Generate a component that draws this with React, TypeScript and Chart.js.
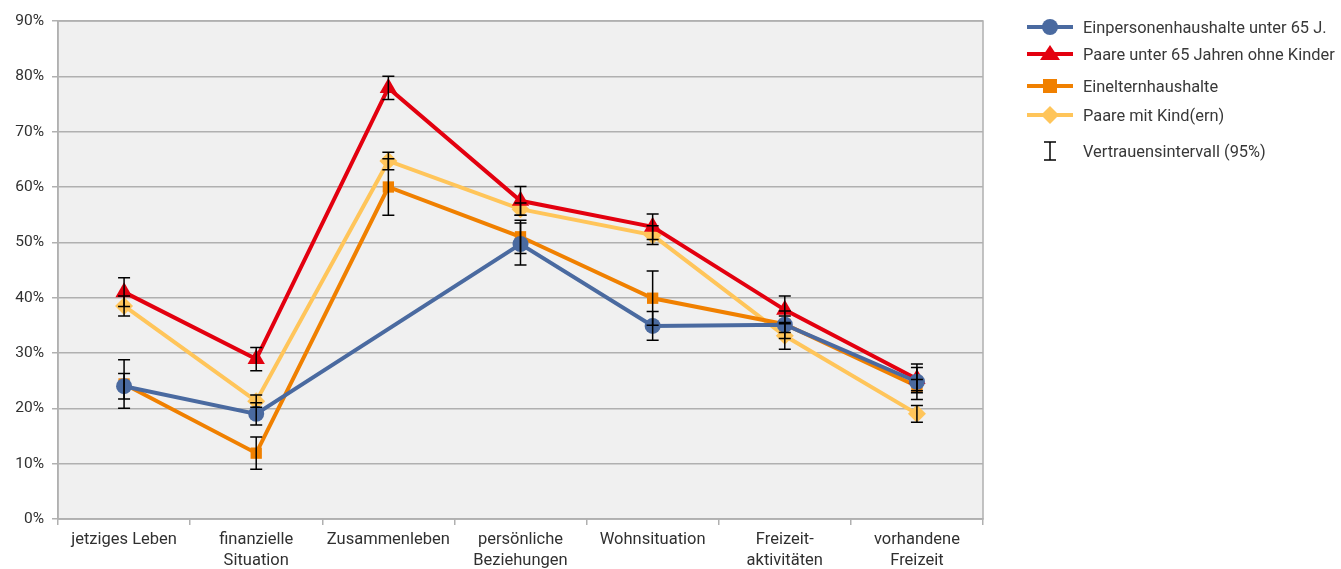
import React, { useEffect, useRef } from "react";
import { Chart, registerables } from "chart.js";

Chart.register(...registerables);

const categories: (string | string[])[] = [
  "jetziges Leben",
  ["finanzielle", "Situation"],
  "Zusammenleben",
  ["persönliche", "Beziehungen"],
  "Wohnsituation",
  ["Freizeit-", "aktivitäten"],
  ["vorhandene", "Freizeit"],
];

const seriesNames = [
  "Einpersonenhaushalte unter 65 J.",
  "Paare unter 65 Jahren ohne Kinder",
  "Einelternhaushalte",
  "Paare mit Kind(ern)",
];
const ciLabel = "Vertrauensintervall (95%)";

const einpersonen = [24.0, 19.0, null, 49.7, 34.9, 35.1, 24.8];
const paareOhne = [41.0, 28.9, 77.9, 57.5, 52.8, 37.8, 25.3];
const einEltern = [24.4, 11.9, 60.0, 51.0, 39.9, 35.2, 24.0];
const paareMit = [38.5, 21.3, 64.7, 56.0, 51.3, 33.1, 19.0];

const errEinpersonen = [2.3, 2.0, null, 3.8, 2.6, 2.5, 3.2];
const errPaareOhne = [2.6, 2.1, 2.1, 2.6, 2.3, 2.5, 2.1];
const errEinEltern = [4.4, 2.9, 5.1, 3.0, 4.9, 1.5, 1.2];
const errPaareMit = [1.8, 1.1, 1.6, 1.1, 1.7, 2.4, 1.5];

const yTicks = [0, 10, 20, 30, 40, 50, 60, 70, 80, 90];

const colors = ["#4A6AA0", "#E3000F", "#F08000", "#FFC55A"];
const pointStyles = ["circle", "triangle", "rect", "rectRot"];
const pointRadii = [8, 10, 8, 9];
const values = [einpersonen, paareOhne, einEltern, paareMit];
const errors = [errEinpersonen, errPaareOhne, errEinEltern, errPaareMit];

const bgPlugin = {
  id: "plotBg",
  beforeDraw(chart: any) {
    const { ctx, chartArea } = chart;
    ctx.save();
    ctx.fillStyle = "#F0F0F0";
    ctx.fillRect(chartArea.left, chartArea.top, chartArea.right - chartArea.left, chartArea.bottom - chartArea.top);
    ctx.restore();
  },
  afterDraw(chart: any) {
    const { ctx, chartArea } = chart;
    ctx.save();
    ctx.strokeStyle = "#B0B0B0";
    ctx.lineWidth = 1.5;
    ctx.strokeRect(chartArea.left, chartArea.top, chartArea.right - chartArea.left, chartArea.bottom - chartArea.top);
    ctx.restore();
  },
};

const errPlugin = {
  id: "errBars",
  afterDatasetsDraw(chart: any) {
    const { ctx } = chart;
    const yScale = chart.scales.y;
    ctx.save();
    ctx.strokeStyle = "#000";
    ctx.lineWidth = 1.5;
    errors.forEach((errs, i) => {
      const meta = chart.getDatasetMeta(i);
      errs.forEach((e, j) => {
        const v = values[i][j];
        if (e == null || v == null) return;
        const x = meta.data[j].x;
        const y1 = yScale.getPixelForValue(v + e);
        const y2 = yScale.getPixelForValue(v - e);
        ctx.beginPath();
        ctx.moveTo(x, y1);
        ctx.lineTo(x, y2);
        ctx.moveTo(x - 6, y1);
        ctx.lineTo(x + 6, y1);
        ctx.moveTo(x - 6, y2);
        ctx.lineTo(x + 6, y2);
        ctx.stroke();
      });
    });
    ctx.restore();
  },
};

function LegendIcon({ idx }: { idx: number }) {
  const c = colors[idx];
  let marker: React.ReactNode = null;
  if (idx === 0) marker = <circle cx={23} cy={9} r={8} fill={c} />;
  if (idx === 1) marker = <polygon points="23,0 33,15 13,15" fill={c} />;
  if (idx === 2) marker = <rect x={16} y={2} width={14} height={14} fill={c} />;
  if (idx === 3) marker = <polygon points="23,0 32,9 23,18 14,9" fill={c} />;
  return (
    <svg width={46} height={18} style={{ display: "block", flexShrink: 0 }}>
      <line x1={0} y1={9} x2={46} y2={9} stroke={c} strokeWidth={4} />
      {marker}
    </svg>
  );
}

export default function App() {
  const ref = useRef<HTMLCanvasElement | null>(null);
  useEffect(() => {
    document.body.style.margin = "0";
    if (!ref.current) return;
    const chart = new Chart(ref.current, {
      type: "line",
      data: {
        labels: categories,
        datasets: values.map((v, i) => ({
          label: seriesNames[i],
          data: v,
          borderColor: colors[i],
          backgroundColor: colors[i],
          borderWidth: 4,
          pointStyle: pointStyles[i] as any,
          pointRadius: pointRadii[i],
          pointBorderWidth: 0,
          pointBackgroundColor: colors[i],
          tension: 0,
          spanGaps: true,
        })),
      },
      options: {
        animation: false,
        responsive: false,
        maintainAspectRatio: false,
        layout: { padding: { top: 21, right: 358, left: 8, bottom: 0 } },
        plugins: { legend: { display: false }, tooltip: { enabled: false } },
        scales: {
          x: {
            offset: true,
            grid: { offset: true, drawOnChartArea: false, drawTicks: true, tickLength: 6, color: "#B0B0B0", lineWidth: 1.5 },
            border: { color: "#B0B0B0", width: 1.5 },
            ticks: {
              maxRotation: 0,
              autoSkip: false,
              color: "#303030",
              font: { family: "Roboto", size: 16.5, lineHeight: 1.25 },
              padding: 5,
            },
            afterFit(scale: any) {
              scale.height = 50;
            },
          },
          y: {
            min: 0,
            max: 90,
            afterBuildTicks(scale: any) {
              scale.ticks = yTicks.map((v) => ({ value: v }));
            },
            grid: { color: "#B0B0B0", lineWidth: 1.5, tickLength: 6 },
            border: { color: "#B0B0B0", width: 1.5 },
            ticks: {
              color: "#303030",
              font: { family: "Roboto", size: 15.5 },
              padding: 8,
              callback: (v: any) => v + "%",
            },
            afterFit(scale: any) {
              scale.width = 50;
              scale.paddingTop = 0;
              scale.paddingBottom = 0;
            },
          },
        },
      },
      plugins: [bgPlugin, errPlugin],
    });
    return () => chart.destroy();
  }, []);

  const legendTops = [25, 52, 84, 113];
  const legendFont = {
    fontFamily: "Roboto",
    fontSize: 16.4,
    color: "#383838",
    whiteSpace: "nowrap" as const,
  };
  return (
    <div style={{ position: "relative", width: 1341, height: 569, margin: 0 }}>
      <canvas ref={ref} width={1341} height={569} style={{ display: "block", position: "absolute", left: 0, top: 0 }} />
      {seriesNames.map((n, i) => (
        <div
          key={n}
          style={{
            position: "absolute",
            left: 1027,
            top: legendTops[i] - 8,
            width: 330,
            height: 20,
            display: "flex",
            alignItems: "center",
            ...legendFont,
          }}
        >
          <LegendIcon idx={i} />
          <span style={{ marginLeft: 10, flexShrink: 0 }}>{n}</span>
        </div>
      ))}
      <div
        style={{
          position: "absolute",
          left: 1027,
          top: 140,
          width: 330,
          display: "flex",
          alignItems: "center",
          ...legendFont,
        }}
      >
        <svg width={46} height={22} style={{ display: "block", flexShrink: 0 }}>
          <line x1={23} y1={2} x2={23} y2={20} stroke="#000" strokeWidth={1.5} />
          <line x1={17} y1={2} x2={29} y2={2} stroke="#000" strokeWidth={1.5} />
          <line x1={17} y1={20} x2={29} y2={20} stroke="#000" strokeWidth={1.5} />
        </svg>
        <span style={{ marginLeft: 10, flexShrink: 0 }}>{ciLabel}</span>
      </div>
    </div>
  );
}
